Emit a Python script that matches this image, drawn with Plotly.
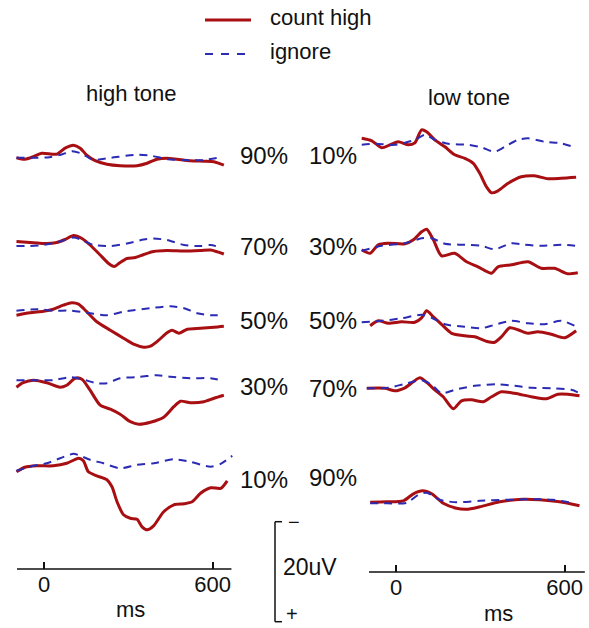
import plotly.graph_objects as go

W, H = 589, 628
PX_PER_UV = 5.0          # vertical scale: 20 uV = 100 px
PX_PER_MS = 0.281        # horizontal scale
LEFT_ZERO_PX, RIGHT_ZERO_PX = 44, 396

RED = "#a80f12"
BLUE = "#2b2bb3"
FONT = "Liberation Sans, Arial, Helvetica, sans-serif"

# ---------------- high tone (left column) ----------------
high90_count_t = [-98, -68, -38, -8, 45, 75, 105, 129, 152, 182, 224, 271, 331, 367, 402, 438, 474, 521, 569, 605, 640]
high90_count_v = [0, 0.3, -0.2, -0.9, -0.7, -1.9, -2.5, -1.9, -0.5, 0.6, 1.3, 1.6, 1.6, 1.1, 0.3, 0.1, 0.3, 0.6, 0.7, 0.8, 1.5]
high90_ignore_t = [-98, -40, 20, 60, 100, 130, 175, 240, 330, 380, 440, 520, 560, 630]
high90_ignore_v = [0, 0, -0.1, -0.6, -1.3, -0.9, 0.4, 0, -0.6, -0.4, 0.3, 0.5, 0.5, -0.1]

high70_count_t = [-98, -50, -2, 45, 75, 105, 135, 164, 200, 230, 250, 271, 295, 325, 355, 390, 438, 498, 557, 593, 640]
high70_count_v = [-0.3, -0.1, 0.1, -0.1, -0.7, -1.5, -0.9, 0.4, 2.4, 4.1, 4.7, 3.9, 3.1, 2.9, 2.3, 1.7, 1.5, 1.6, 1.5, 1.4, 2.2]
high70_ignore_t = [-98, -50, -2, 57, 105, 135, 176, 236, 295, 355, 390, 438, 498, 557, 593, 629]
high70_ignore_v = [0.6, 0.6, 0.4, -0.3, -1.1, -0.6, 0.4, 0.6, 0.1, -0.7, -0.9, -0.6, 0.4, 0.6, 0.4, 0.9]

high50_count_t = [-98, -50, -2, 33, 69, 99, 123, 152, 188, 236, 283, 319, 355, 379, 408, 438, 456, 480, 510, 557, 605, 640]
high50_count_v = [0.5, 0, -0.3, -0.7, -1.5, -2.0, -1.7, -0.2, 1.8, 3.5, 5.1, 6.3, 6.9, 6.7, 5.5, 4.0, 3.5, 4.1, 3.3, 3.1, 2.9, 2.7]
high50_ignore_t = [-98, -26, 33, 93, 152, 224, 283, 379, 450, 498, 545, 593, 640]
high50_ignore_v = [-0.4, -0.7, -0.4, -0.4, 0, 0.5, -0.2, -0.9, -1.3, -0.9, 0.1, 0.5, 0.5]

high30_count_t = [-98, -74, -38, 10, 57, 81, 111, 135, 164, 200, 236, 271, 307, 337, 379, 426, 462, 486, 521, 569, 605, 640]
high30_count_v = [1.3, 0.4, -0.1, 0.4, 1.3, 0.9, -0.5, -0.3, 1.9, 4.9, 5.7, 6.7, 8.2, 8.7, 8.3, 7.3, 5.2, 4.1, 4.4, 4.2, 3.5, 2.9]
high30_ignore_t = [-98, -26, 33, 93, 135, 188, 224, 271, 331, 402, 450, 521, 593, 629]
high30_ignore_v = [-0.1, -0.1, -0.1, -0.7, -0.3, 0.5, 0.5, -0.5, -0.7, -1.1, -0.8, -0.5, -0.5, -0.1]

high10_count_t = [-98, -68, -26, 33, 81, 123, 140, 158, 188, 224, 242, 260, 283, 307, 331, 349, 367, 390, 426, 462, 498, 527, 557, 593, 629, 652]
high10_count_v = [0.7, -0.2, -0.5, -0.5, -1.0, -2.0, -1.5, 0.7, 1.5, 2.3, 3.7, 6.7, 9.3, 10.0, 10.2, 11.7, 12.3, 11.5, 8.7, 7.3, 7.1, 6.7, 5.0, 3.9, 4.0, 2.5]
high10_ignore_t = [-98, -38, 10, 57, 105, 129, 164, 212, 271, 331, 390, 462, 521, 593, 629, 670]
high10_ignore_v = [0.5, -0.5, -1.0, -2.0, -2.9, -2.5, -1.7, -1.0, 0, -0.7, -1.0, -1.8, -1.3, -0.3, -0.9, -2.5]

# ---------------- low tone (right column) ----------------
low10_count_t = [-122, -86, -51, -21, 8, 44, 67, 91, 109, 138, 174, 209, 245, 275, 298, 322, 340, 363, 399, 446, 493, 541, 588, 641]
low10_count_v = [-1.0, -0.5, 0.9, 0.3, -0.3, 0.3, -0.1, -2.7, -2.3, -0.7, 0.7, 2.3, 3.0, 4.0, 6.0, 8.7, 9.9, 9.5, 8.0, 6.7, 6.5, 7.1, 7.0, 6.8]
low10_ignore_t = [-122, -75, -4, 67, 103, 138, 186, 257, 304, 351, 387, 434, 470, 529, 588, 630]
low10_ignore_v = [0.3, 0.1, 0.3, -0.7, -1.7, -0.7, 0.1, 0.3, 0.8, 1.7, 0.7, -0.7, -1.0, -0.3, 0, 0.7]

low30_count_t = [-122, -92, -63, -27, 32, 62, 91, 109, 133, 162, 209, 251, 292, 340, 363, 411, 470, 517, 564, 612, 647]
low30_count_v = [0.3, 1.0, -0.7, -1.0, -0.9, -1.7, -3.3, -3.8, -1.7, 1.5, 1.0, 2.7, 3.7, 5.0, 3.7, 3.3, 2.7, 4.0, 4.0, 5.1, 4.9]
low30_ignore_t = [-122, -51, 32, 91, 127, 174, 245, 304, 351, 411, 458, 517, 588, 641]
low30_ignore_v = [0.5, -0.5, -1.0, -2.0, -2.0, -0.9, -0.7, -0.5, 0.2, -1.0, -0.7, -0.5, -0.7, -0.5]

low50_count_t = [-92, -63, -27, 20, 67, 91, 109, 133, 162, 198, 245, 280, 328, 351, 375, 405, 434, 470, 505, 553, 600, 641]
low50_count_v = [0.7, -0.3, 0.2, -0.1, 0, -0.9, -2.3, -1.1, 0.4, 2.2, 2.7, 2.9, 3.9, 4.0, 2.9, 1.1, 1.5, 2.2, 1.9, 2.4, 3.1, 1.7]
low50_ignore_t = [-122, -51, 20, 91, 127, 174, 245, 304, 351, 411, 470, 529, 588, 636]
low50_ignore_v = [0, -0.3, -0.8, -1.5, -0.9, 0.4, 0.9, 1.2, 0.5, -0.3, 0.2, 0.4, -0.3, 0.7]

low70_count_t = [-104, -39, -4, 32, 85, 109, 138, 168, 204, 233, 269, 310, 340, 375, 422, 482, 535, 576, 612, 653]
low70_count_v = [0, 0, 0.5, -0.1, -2.1, -1.2, 0.3, 1.7, 4.1, 2.5, 2.3, 2.7, 1.7, 0.7, 1.0, 1.7, 2.1, 1.2, 1.2, 1.5]
low70_ignore_t = [-104, -27, 32, 91, 127, 162, 209, 280, 363, 422, 482, 564, 624, 647]
low70_ignore_v = [0, -0.1, -0.9, -1.6, -0.7, 1.0, 0.3, -0.5, -0.8, -0.5, -0.1, 0, 0.3, 0.8]

low90_count_t = [-92, -33, 26, 62, 95, 127, 168, 215, 251, 298, 369, 452, 511, 582, 653]
low90_count_v = [0, -0.1, -0.3, -1.7, -2.3, -1.7, 0.2, 1.2, 1.4, 0.9, -0.1, -0.6, -0.5, -0.1, 0.7]
low90_ignore_t = [-92, -33, 38, 79, 109, 156, 215, 298, 393, 487, 558, 629]
low90_ignore_v = [0.2, 0.2, 0.1, -1.5, -1.9, -0.5, 0, -0.3, -0.5, -0.6, -0.5, 0.1]

LEFT_LABELS = ["90%", "70%", "50%", "30%", "10%"]
RIGHT_LABELS = ["10%", "30%", "50%", "70%", "90%"]
TICK_MS = [0, 600]
SCALE_UV = 20

# stacking: baseline row of each waveform (px from top)
LEFT_ROWS = [157.7, 243, 312.7, 380.7, 468.3]
RIGHT_ROWS = [143.3, 248.3, 322.3, 388.3, 502.3]
LEFT_LABEL_Y = [155, 246, 320, 386, 479]
RIGHT_LABEL_Y = [155, 246, 320, 388, 477]

left_sets = [
    (high90_count_t, high90_count_v, high90_ignore_t, high90_ignore_v),
    (high70_count_t, high70_count_v, high70_ignore_t, high70_ignore_v),
    (high50_count_t, high50_count_v, high50_ignore_t, high50_ignore_v),
    (high30_count_t, high30_count_v, high30_ignore_t, high30_ignore_v),
    (high10_count_t, high10_count_v, high10_ignore_t, high10_ignore_v),
]
right_sets = [
    (low10_count_t, low10_count_v, low10_ignore_t, low10_ignore_v),
    (low30_count_t, low30_count_v, low30_ignore_t, low30_ignore_v),
    (low50_count_t, low50_count_v, low50_ignore_t, low50_ignore_v),
    (low70_count_t, low70_count_v, low70_ignore_t, low70_ignore_v),
    (low90_count_t, low90_count_v, low90_ignore_t, low90_ignore_v),
]


def px2uv(py):
    return py / PX_PER_UV


def px(x, y):
    return x / W, 1 - y / H


fig = go.Figure()


def add_pair(sets, rows, xa):
    for (tc, vc, ti, vi), row in zip(sets, rows):
        off = px2uv(row)
        fig.add_trace(go.Scatter(
            x=tc, y=[off + v for v in vc], xaxis=xa, yaxis="y", mode="lines",
            line=dict(color=RED, width=3, shape="spline", smoothing=0.7),
            showlegend=False, hoverinfo="skip"))
        fig.add_trace(go.Scatter(
            x=ti, y=[off + v for v in vi], xaxis=xa, yaxis="y", mode="lines",
            line=dict(color=BLUE, width=2, dash="8px,6px", shape="spline", smoothing=0.7),
            showlegend=False, hoverinfo="skip"))


add_pair(left_sets, LEFT_ROWS, "x")
add_pair(right_sets, RIGHT_ROWS, "x2")

LEFT_AXIS_Y, RIGHT_AXIS_Y = 569, 572
split_px = 300


def ms_range(zero_px, x0, x1):
    return [(x0 - zero_px) / PX_PER_MS, (x1 - zero_px) / PX_PER_MS]


axis_common = dict(
    showgrid=False, zeroline=False, showline=False, ticks="inside", ticklen=7,
    tickwidth=1.5, tickcolor="#111", tickvals=TICK_MS,
    tickfont=dict(family=FONT, size=22, color="#111"), anchor="free",
)
fig.update_layout(
    width=W, height=H, margin=dict(l=0, r=0, t=0, b=0),
    paper_bgcolor="white", plot_bgcolor="white", showlegend=False,
    xaxis=dict(domain=[0, split_px / W], range=ms_range(LEFT_ZERO_PX, 0, split_px),
               position=1 - LEFT_AXIS_Y / H, **axis_common),
    xaxis2=dict(domain=[split_px / W, 1], range=ms_range(RIGHT_ZERO_PX, split_px, W),
                position=1 - RIGHT_AXIS_Y / H, **axis_common),
    yaxis=dict(domain=[0, 1], range=[H / PX_PER_UV, 0], visible=False),
)

# time axis lines
fig.add_shape(type="line", xref="x", yref="y", x0=-96, x1=667,
              y0=px2uv(LEFT_AXIS_Y), y1=px2uv(LEFT_AXIS_Y), line=dict(color="#111", width=1.5))
fig.add_shape(type="line", xref="x2", yref="y", x0=-96, x1=672,
              y0=px2uv(RIGHT_AXIS_Y), y1=px2uv(RIGHT_AXIS_Y), line=dict(color="#111", width=1.5))

# voltage scale bar (negative up)
SB_X, SB_TOP = 275, 521.7
sb_top = px2uv(SB_TOP)
sb_bot = sb_top + SCALE_UV
bar = dict(color="#111", width=1.5)
fig.add_shape(type="line", xref="paper", yref="y", x0=SB_X / W, x1=SB_X / W, y0=sb_top, y1=sb_bot, line=bar)
fig.add_shape(type="line", xref="paper", yref="y", x0=SB_X / W, x1=(SB_X + 7) / W, y0=sb_top, y1=sb_top, line=bar)
fig.add_shape(type="line", xref="paper", yref="y", x0=SB_X / W, x1=(SB_X + 7) / W, y0=sb_bot, y1=sb_bot, line=bar)


def text(s, x, y, size, xanchor="center"):
    ax, ay = px(x, y)
    fig.add_annotation(text=s, x=ax, y=ay, xref="paper", yref="paper", showarrow=False,
                       xanchor=xanchor, yanchor="middle",
                       font=dict(family=FONT, size=size, color="#111"))


text("\u2212", 286, 522, 20, "left")
text("+", 284, 614, 20, "left")
text(f"{SCALE_UV}uV", 281, 567, 23, "left")

# column titles
text("high tone", 131, 93, 22)
text("low tone", 469, 98, 22)

# condition labels
for lab, y in zip(LEFT_LABELS, LEFT_LABEL_Y):
    text(lab, 264, y, 24)
for lab, y in zip(RIGHT_LABELS, RIGHT_LABEL_Y):
    text(lab, 333, y, 24)

# time unit labels
text("ms", 130, 609, 22)
text("ms", 498, 613, 22)

# legend
fig.add_shape(type="line", xref="paper", yref="paper", x0=205 / W, x1=251 / W,
              y0=1 - 20 / H, y1=1 - 20 / H, line=dict(color=RED, width=3))
fig.add_shape(type="line", xref="paper", yref="paper", x0=205 / W, x1=251 / W,
              y0=1 - 54 / H, y1=1 - 54 / H, line=dict(color=BLUE, width=2, dash="8px,8px"))
text("count high", 268, 18, 22, "left")
text("ignore", 268, 52, 22, "left")

fig.write_html("out.html")
